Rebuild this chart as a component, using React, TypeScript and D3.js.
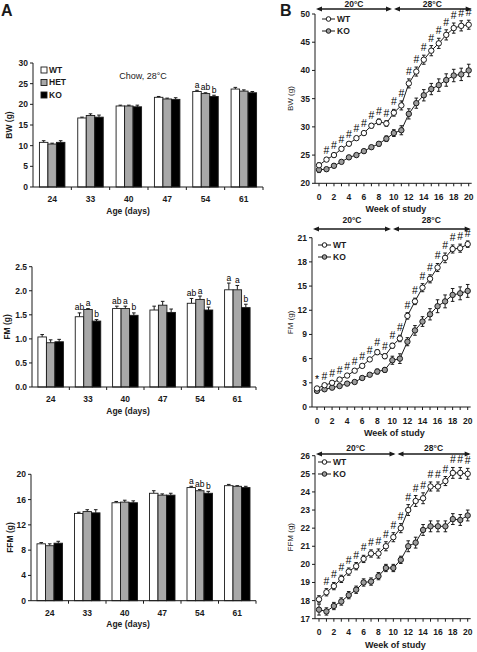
import React from 'react';
import * as d3 from 'd3';

// ---------- DATA ----------
const ages = ['24', '33', '40', '47', '54', '61'];
const genotypes = ['WT', 'HET', 'KO'];
const genoFill = ['#ffffff', '#a8a8a8', '#000000'];

const bwMean = [[10.8, 10.4, 10.8], [16.7, 17.3, 16.9], [19.6, 19.6, 19.4], [21.7, 21.3, 21.2], [23.1, 22.6, 21.9], [23.7, 23.2, 22.8]];
const bwErr = [[0.4, 0.2, 0.4], [0.2, 0.4, 0.5], [0.2, 0.2, 0.4], [0.2, 0.2, 0.4], [0.3, 0.2, 0.3], [0.4, 0.3, 0.3]];
const bwLetters = [['', '', ''], ['', '', ''], ['', '', ''], ['', '', ''], ['a', 'ab', 'b'], ['', '', '']];

const fmMean = [[1.04, 0.92, 0.94], [1.46, 1.61, 1.37], [1.63, 1.63, 1.49], [1.60, 1.70, 1.55], [1.74, 1.82, 1.60], [2.02, 2.02, 1.65]];
const fmErr = [[0.05, 0.06, 0.05], [0.08, 0.02, 0.03], [0.05, 0.05, 0.05], [0.08, 0.08, 0.07], [0.10, 0.07, 0.06], [0.14, 0.09, 0.07]];
const fmLetters = [['', '', ''], ['ab', 'a', 'b'], ['ab', 'a', 'b'], ['', '', ''], ['ab', 'a', 'b'], ['a', 'a', 'b']];

const ffmMean = [[9.0, 8.7, 9.1], [13.8, 14.1, 13.9], [15.5, 15.6, 15.5], [17.0, 16.7, 16.7], [17.9, 17.4, 17.0], [18.2, 18.1, 17.9]];
const ffmErr = [[0.2, 0.3, 0.3], [0.2, 0.3, 0.5], [0.2, 0.3, 0.3], [0.4, 0.2, 0.3], [0.2, 0.2, 0.3], [0.2, 0.1, 0.2]];
const ffmLetters = [['', '', ''], ['', '', ''], ['', '', ''], ['', '', ''], ['a', 'ab', 'b'], ['', '', '']];

const weeks = [0, 1, 2, 3, 4, 5, 6, 7, 8, 9, 10, 11, 12, 13, 14, 15, 16, 17, 18, 19, 20];
const weekTickLabels = [0, 2, 4, 6, 8, 10, 12, 14, 16, 18, 20];

const lineBwWT = [23.2, 24.2, 25.0, 26.1, 27.0, 28.0, 28.9, 30.2, 30.9, 30.6, 32.5, 33.8, 37.7, 39.8, 41.9, 43.5, 44.8, 46.3, 47.5, 47.9, 48.1];
const lineBwWTErr = [0.4, 0.3, 0.3, 0.3, 0.3, 0.3, 0.3, 0.4, 0.5, 0.5, 0.6, 0.8, 0.8, 0.8, 0.8, 0.9, 0.9, 0.9, 0.9, 0.9, 0.8];
const lineBwKO = [22.4, 22.5, 23.1, 23.8, 24.6, 25.0, 25.7, 26.4, 27.0, 27.9, 28.9, 29.4, 32.3, 34.2, 35.6, 36.7, 37.4, 38.3, 39.1, 39.3, 40.0];
const lineBwKOErr = [0.5, 0.3, 0.3, 0.3, 0.3, 0.3, 0.3, 0.3, 0.4, 0.5, 0.6, 0.8, 0.9, 0.9, 1.0, 1.0, 1.1, 1.1, 1.1, 1.1, 1.1];
const lineBwMarks = ['', '#', '#', '#', '#', '#', '#', '#', '#', '#', '#', '#', '#', '#', '#', '#', '#', '#', '#', '#', '#'];

const lineFmWT = [2.3, 2.7, 3.0, 3.4, 3.9, 4.5, 5.1, 5.9, 6.8, 6.3, 7.6, 8.5, 11.3, 13.1, 14.8, 15.9, 17.3, 18.5, 19.6, 19.7, 20.2];
const lineFmWTErr = [0.2, 0.2, 0.2, 0.2, 0.2, 0.2, 0.2, 0.2, 0.3, 0.3, 0.3, 0.4, 0.4, 0.4, 0.5, 0.5, 0.5, 0.6, 0.5, 0.5, 0.4];
const lineFmKO = [2.0, 2.2, 2.4, 2.6, 2.9, 3.1, 3.6, 4.0, 4.4, 4.6, 5.8, 6.0, 8.1, 9.5, 10.6, 11.5, 12.5, 13.1, 13.9, 14.1, 14.4];
const lineFmKOErr = [0.2, 0.2, 0.2, 0.2, 0.2, 0.2, 0.2, 0.2, 0.3, 0.3, 0.5, 0.6, 0.5, 0.6, 0.6, 0.7, 0.8, 0.8, 0.8, 0.8, 0.8];
const lineFmMarks = ['*', '#', '#', '#', '#', '#', '#', '#', '#', '#', '#', '#', '#', '#', '#', '#', '#', '#', '#', '#', '#'];

const lineFfmWT = [18.07, 18.46, 18.8, 19.2, 19.6, 19.9, 20.3, 20.6, 20.6, 21.0, 21.5, 22.0, 23.0, 23.5, 23.65, 24.3, 24.3, 24.6, 25.05, 25.05, 25.0];
const lineFfmWTErr = [0.2, 0.2, 0.2, 0.2, 0.2, 0.2, 0.2, 0.2, 0.25, 0.25, 0.25, 0.25, 0.3, 0.3, 0.3, 0.25, 0.25, 0.25, 0.3, 0.3, 0.3];
const lineFfmKO = [17.5, 17.4, 17.7, 17.95, 18.3, 18.6, 19.0, 19.05, 19.35, 19.8, 19.8, 20.25, 21.0, 21.2, 21.9, 22.1, 22.1, 22.1, 22.5, 22.45, 22.7];
const lineFfmKOErr = [0.3, 0.2, 0.2, 0.2, 0.2, 0.2, 0.2, 0.2, 0.2, 0.2, 0.2, 0.2, 0.3, 0.3, 0.3, 0.3, 0.3, 0.3, 0.3, 0.3, 0.3];
const lineFfmMarks = ['', '#', '#', '#', '#', '#', '#', '#', '#', '#', '#', '#', '#', '#', '#', '#', '#', '#', '#', '#', '#'];

const tempLabels = ['20°C', '28°C'];
const lineSeries = ['WT', 'KO'];

// ---------- STYLE ----------
const FONT = '"Liberation Sans", Arial, Helvetica, sans-serif';
const INK = '#1a1a1a';

type BarProps = {
  x0: number; x1: number; yTopPx: number; y0Px: number; yMax: number; yTicks: number[]; fmt: string;
  means: number[][]; errs: number[][]; letters: string[][]; ylabel: string; ylabelX: number;
  legend?: boolean; title?: string;
};

function BarPanel(p: BarProps) {
  const x = d3.scaleBand<string>().domain(ages).range([p.x0, p.x1]).paddingInner(0).paddingOuter(0);
  const band = x.bandwidth();
  const groupW = 25.5;
  const xs = d3.scaleBand<string>().domain(genotypes).range([(band - groupW) / 2, (band + groupW) / 2]);
  const y = d3.scaleLinear().domain([0, p.yMax]).range([p.y0Px, p.yTopPx]);
  const f = d3.format(p.fmt);
  const midY = (p.y0Px + p.yTopPx) / 2;
  return (
    <g fontFamily={FONT}>
      <line x1={p.x0} x2={p.x0} y1={p.y0Px} y2={p.yTopPx} stroke={INK} strokeWidth={1} />
      {p.yTicks.map((t) => (
        <g key={t}>
          <line x1={p.x0 - 3} x2={p.x0} y1={y(t)} y2={y(t)} stroke={INK} strokeWidth={1} />
          <text x={p.x0 - 5} y={y(t)} dy="0.35em" textAnchor="end" fontSize={8.5} fontWeight="bold" fill={INK}>{f(t)}</text>
        </g>
      ))}
      <text transform={`translate(${p.ylabelX},${midY}) rotate(-90)`} textAnchor="middle" dy="0.35em" fontSize={8.5} fontWeight="bold" fill={INK}>{p.ylabel}</text>
      {ages.map((a, i) => (
        <g key={a}>
          {genotypes.map((g, j) => {
            const bx = (x(a) as number) + (xs(g) as number);
            const bw = xs.bandwidth();
            const v = p.means[i][j];
            const e = p.errs[i][j];
            const cx = bx + bw / 2;
            return (
              <g key={g}>
                <line x1={cx} x2={cx} y1={y(v)} y2={y(v + e)} stroke={INK} strokeWidth={1} />
                <line x1={cx - 1.8} x2={cx + 1.8} y1={y(v + e)} y2={y(v + e)} stroke={INK} strokeWidth={1} />
                <rect x={bx} y={y(v)} width={bw} height={p.y0Px - y(v)} fill={genoFill[j]} stroke={INK} strokeWidth={0.9} />
                {p.letters[i][j] && (
                  <text x={cx} y={y(v + e) - 2.5} textAnchor="middle" fontSize={8.5} fill="#000">{p.letters[i][j]}</text>
                )}
              </g>
            );
          })}
        </g>
      ))}
      <line x1={p.x0} x2={p.x1} y1={p.y0Px} y2={p.y0Px} stroke={INK} strokeWidth={1} />
      {ages.map((a) => (
        <g key={a}>
          <line x1={(x(a) as number) + band} x2={(x(a) as number) + band} y1={p.y0Px} y2={p.y0Px + 3} stroke={INK} strokeWidth={1} />
          <text x={(x(a) as number) + band / 2} y={p.y0Px + 15} textAnchor="middle" fontSize={8.5} fontWeight="bold" fill={INK}>{a}</text>
        </g>
      ))}
      <text x={128} y={p.y0Px + 26.5} textAnchor="middle" fontSize={8.5} fontWeight="bold" fill={INK}>Age (days)</text>
      {p.legend && genotypes.map((g, j) => (
        <g key={g}>
          <rect x={p.x0 + 8} y={p.yTopPx + 4 + j * 12.5} width={6} height={6} fill={genoFill[j]} stroke={INK} strokeWidth={0.9} />
          <text x={p.x0 + 16} y={p.yTopPx + 7 + j * 12.5} dy="0.35em" fontSize={8.5} fontWeight="bold" fill={INK}>{g}</text>
        </g>
      ))}
      {p.title && (
        <text x={143} y={p.yTopPx + 16} textAnchor="middle" fontSize={9} fill={INK}>{p.title}</text>
      )}
    </g>
  );
}

type LineProps = {
  axisX: number; x0Px: number; x20Px: number; yBotPx: number; yTopPx: number; yMin: number; yMax: number; yTicks: number[];
  wt: number[]; wtErr: number[]; ko: number[]; koErr: number[]; marks: string[]; ylabel: string;
  arrowY: number; arrowTextY: number; splitPx: number; legendY: number; legendX: number;
};

function Arrow({ a, b, yy }: { a: number; b: number; yy: number }) {
  const h = 6, w = 2.6;
  return (
    <g>
      <line x1={a + 2} x2={b - 2} y1={yy} y2={yy} stroke={INK} strokeWidth={1.3} />
      <polygon points={`${a},${yy} ${a + h},${yy - w} ${a + h},${yy + w}`} fill={INK} />
      <polygon points={`${b},${yy} ${b - h},${yy - w} ${b - h},${yy + w}`} fill={INK} />
    </g>
  );
}

function LinePanel(p: LineProps) {
  const x = d3.scaleLinear().domain([0, 20]).range([p.x0Px, p.x20Px]);
  const y = d3.scaleLinear().domain([p.yMin, p.yMax]).range([p.yBotPx, p.yTopPx]);
  const line = d3.line<number>().x((_, i) => x(weeks[i])).y((d) => y(d));
  const xEnd = p.x20Px + 3;
  const series = [
    { name: lineSeries[1], v: p.ko, e: p.koErr, fill: '#9c9c9c' },
    { name: lineSeries[0], v: p.wt, e: p.wtErr, fill: '#ffffff' },
  ];
  return (
    <g fontFamily={FONT}>
      <Arrow a={p.axisX + 1} b={p.splitPx - 1} yy={p.arrowY} />
      <Arrow a={p.splitPx + 1} b={xEnd} yy={p.arrowY} />
      <text x={(p.axisX + p.splitPx) / 2} y={p.arrowTextY} textAnchor="middle" fontSize={8.5} fontWeight="bold" fill={INK}>{tempLabels[0]}</text>
      <text x={(p.splitPx + xEnd) / 2} y={p.arrowTextY} textAnchor="middle" fontSize={8.5} fontWeight="bold" fill={INK}>{tempLabels[1]}</text>
      <line x1={p.axisX} x2={p.axisX} y1={p.yBotPx} y2={p.yTopPx} stroke={INK} strokeWidth={1} />
      {p.yTicks.map((t) => (
        <g key={t}>
          <line x1={p.axisX - 3} x2={p.axisX} y1={y(t)} y2={y(t)} stroke={INK} strokeWidth={1} />
          <text x={p.axisX - 5} y={y(t)} dy="0.35em" textAnchor="end" fontSize={8.5} fontWeight="bold" fill={INK}>{t}</text>
        </g>
      ))}
      <text transform={`translate(290,${(p.yBotPx + p.yTopPx) / 2}) rotate(-90)`} textAnchor="middle" dy="0.35em" fontSize={8} fill={INK}>{p.ylabel}</text>
      <line x1={p.axisX} x2={xEnd} y1={p.yBotPx} y2={p.yBotPx} stroke={INK} strokeWidth={1} />
      {weeks.map((w) => (
        <line key={w} x1={x(w)} x2={x(w)} y1={p.yBotPx} y2={p.yBotPx + 3} stroke={INK} strokeWidth={1} />
      ))}
      {weekTickLabels.map((w) => (
        <text key={w} x={x(w)} y={p.yBotPx + 16.5} textAnchor="middle" fontSize={8.5} fontWeight="bold" fill={INK}>{w}</text>
      ))}
      <text x={(p.x0Px + p.x20Px) / 2 + 2} y={p.yBotPx + 29} textAnchor="middle" fontSize={9} fontWeight="bold" fill={INK}>Week of study</text>
      {series.map((s) => (
        <path key={s.name} d={line(s.v) as string} fill="none" stroke={INK} strokeWidth={1} />
      ))}
      {series.map((s) => (
        <g key={s.name + 'e'}>
          {s.v.map((v, i) => (
            <g key={i}>
              <line x1={x(weeks[i])} x2={x(weeks[i])} y1={y(v - s.e[i])} y2={y(v + s.e[i])} stroke={INK} strokeWidth={1} />
              <line x1={x(weeks[i]) - 1.8} x2={x(weeks[i]) + 1.8} y1={y(v - s.e[i])} y2={y(v - s.e[i])} stroke={INK} strokeWidth={1} />
              <line x1={x(weeks[i]) - 1.8} x2={x(weeks[i]) + 1.8} y1={y(v + s.e[i])} y2={y(v + s.e[i])} stroke={INK} strokeWidth={1} />
            </g>
          ))}
        </g>
      ))}
      {series.map((s) => (
        <g key={s.name + 'm'}>
          {s.v.map((v, i) => (
            <circle key={i} cx={x(weeks[i])} cy={y(v)} r={2.7} fill={s.fill} stroke={INK} strokeWidth={1} />
          ))}
        </g>
      ))}
      {p.marks.map((m, i) => m && (
        <text key={i} x={x(weeks[i])} y={y(p.wt[i] + p.wtErr[i]) - 4} textAnchor="middle" fontSize={10.5} fill="#000">{m}</text>
      ))}
      {lineSeries.map((n, j) => {
        const ly = p.legendY + j * 12;
        return (
          <g key={n}>
            <line x1={p.legendX} x2={p.legendX + 13} y1={ly} y2={ly} stroke={INK} strokeWidth={1} />
            <circle cx={p.legendX + 6.5} cy={ly} r={2.3} fill={j === 0 ? '#ffffff' : '#9c9c9c'} stroke={INK} strokeWidth={1} />
            <text x={p.legendX + 15} y={ly} dy="0.35em" fontSize={8.5} fontWeight="bold" fill={INK}>{n}</text>
          </g>
        );
      })}
    </g>
  );
}

export default function App() {
  return (
    <svg width={477} height={652} style={{ position: 'absolute', left: 0, top: 0, background: '#fff' }}>
      <rect x={0} y={0} width={477} height={652} fill="#fff" />
      <text x={1} y={15.5} fontFamily={FONT} fontSize={16} fontWeight="bold" fill={INK}>A</text>
      <text x={280} y={15.5} fontFamily={FONT} fontSize={16} fontWeight="bold" fill={INK}>B</text>
      <BarPanel x0={33} x1={263} yTopPx={63} y0Px={187} yMax={30} yTicks={[0, 5, 10, 15, 20, 25, 30]} fmt="d"
        means={bwMean} errs={bwErr} letters={bwLetters} ylabel="BW (g)" ylabelX={9.5} legend title="Chow, 28°C" />
      <BarPanel x0={32} x1={256} yTopPx={266.7} y0Px={387} yMax={2.5} yTicks={[0, 0.5, 1, 1.5, 2, 2.5]} fmt=".1f"
        means={fmMean} errs={fmErr} letters={fmLetters} ylabel="FM (g)" ylabelX={7} />
      <BarPanel x0={31} x1={256} yTopPx={474.3} y0Px={600.7} yMax={20} yTicks={[0, 4, 8, 12, 16, 20]} fmt="d"
        means={ffmMean} errs={ffmErr} letters={ffmLetters} ylabel="FFM (g)" ylabelX={10} />
      <LinePanel axisX={315} x0Px={319} x20Px={468.7} yBotPx={183.3} yTopPx={14} yMin={20} yMax={50} yTicks={[20, 25, 30, 35, 40, 45, 50]}
        wt={lineBwWT} wtErr={lineBwWTErr} ko={lineBwKO} koErr={lineBwKOErr} marks={lineBwMarks} ylabel="BW (g)"
        arrowY={9} arrowTextY={7} splitPx={393} legendY={19} legendX={322} />
      <LinePanel axisX={312} x0Px={317} x20Px={467.7} yBotPx={407} yTopPx={237.7} yMin={0} yMax={21} yTicks={[0, 3, 6, 9, 12, 15, 18, 21]}
        wt={lineFmWT} wtErr={lineFmWTErr} ko={lineFmKO} koErr={lineFmKOErr} marks={lineFmMarks} ylabel="FM (g)"
        arrowY={229} arrowTextY={223} splitPx={392} legendY={245} legendX={318} />
      <LinePanel axisX={315} x0Px={319} x20Px={467.7} yBotPx={618.7} yTopPx={455.7} yMin={17} yMax={26} yTicks={[17, 18, 19, 20, 21, 22, 23, 24, 25, 26]}
        wt={lineFfmWT} wtErr={lineFfmWTErr} ko={lineFfmKO} koErr={lineFfmKOErr} marks={lineFfmMarks} ylabel="FFM (g)"
        arrowY={454} arrowTextY={451} splitPx={396.5} legendY={462} legendX={318} />
    </svg>
  );
}
